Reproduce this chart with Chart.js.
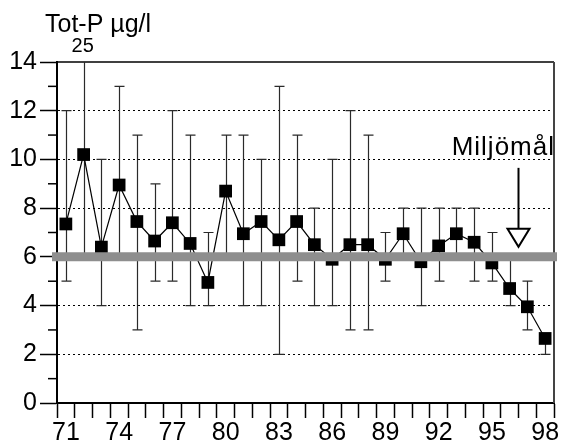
<!DOCTYPE html>
<html>
<head>
<meta charset="utf-8">
<script src="https://cdn.jsdelivr.net/npm/chart.js@4.4.1/dist/chart.umd.min.js"></script>
<style>
  html, body { margin: 0; padding: 0; background: #fff; }
  #wrap { width: 563px; height: 446px; }
</style>
</head>
<body>
<div id="wrap"><canvas id="totpChart"></canvas></div>
<script>
// Total phosphorus, yearly mean with min/max range
const years = ['71', '72', '73', '74', '75', '76', '77', '78', '79', '80', '81', '82', '83', '84',
               '85', '86', '87', '88', '89', '90', '91', '92', '93', '94', '95', '96', '97', '98'];
const meanValues = [7.35, 10.2, 6.4, 8.95, 7.45, 6.65, 7.4, 6.55, 4.95, 8.7, 6.95, 7.45, 6.7, 7.45,
                    6.5, 5.9, 6.5, 6.5, 5.9, 6.95, 5.8, 6.45, 6.95, 6.6, 5.75, 4.7, 3.95, 2.65];
const maxValues = [12, 25, 10, 13, 11, 9, 12, 11, 7, 11, 11, 10, 13, 11,
                   8, 10, 12, 11, 7, 8, 8, 8, 8, 8, 7, 6, 5, 2.8];
const minValues = [5, 6, 4, 6, 3, 5, 5, 4, 4, 6, 4, 4, 2, 5,
                   4, 4, 3, 3, 5, 6, 4, 5, 6, 5, 5, 4, 3, 2];
const yTicks = [0, 2, 4, 6, 8, 10, 12, 14];
const goal = 6;
const goalLabel = 'Miljömål';
const unitLabel = 'Tot-P µg/l';

const FONT = "'Liberation Sans', Arial, Helvetica, sans-serif";
const yMin = yTicks[0];
const yMax = yTicks[yTicks.length - 1];

// Error bars, frame and minor ticks drawn under the markers
const overlayPlugin = {
    id: 'overlay',
    beforeDatasetsDraw(chart) {
        const { ctx, chartArea: area, scales: { x, y } } = chart;
        ctx.save();

        // top and right frame lines
        ctx.lineWidth = 1.5;
        ctx.strokeStyle = '#000';
        ctx.beginPath();
        ctx.moveTo(area.left, area.top);
        ctx.lineTo(area.right, area.top);
        ctx.stroke();
        ctx.lineWidth = 2;
        ctx.strokeStyle = '#444';
        ctx.beginPath();
        ctx.moveTo(area.right, area.top);
        ctx.lineTo(area.right, area.bottom);
        ctx.stroke();

        // short ticks on odd values
        ctx.lineWidth = 1.5;
        ctx.strokeStyle = '#000';
        for (let v = yMin + 1; v < yMax; v += 2) {
            const py = y.getPixelForValue(v);
            ctx.beginPath();
            ctx.moveTo(area.left - 9, py);
            ctx.lineTo(area.left, py);
            ctx.stroke();
        }

        // min/max whiskers
        ctx.beginPath();
        ctx.rect(area.left, area.top - 1, area.width, area.height + 2);
        ctx.clip();
        ctx.lineWidth = 1.2;
        ctx.strokeStyle = '#2a2a2a';
        years.forEach((yr, i) => {
            const px = Math.round(x.getPixelForValue(i)) + 0.5;
            const top = y.getPixelForValue(Math.min(maxValues[i], yMax));
            const bottom = y.getPixelForValue(minValues[i]);
            ctx.beginPath();
            ctx.moveTo(px, top);
            ctx.lineTo(px, bottom);
            if (maxValues[i] <= yMax) {
                ctx.moveTo(px - 5, top);
                ctx.lineTo(px + 5, top);
            }
            ctx.moveTo(px - 5, bottom);
            ctx.lineTo(px + 5, bottom);
            ctx.stroke();
        });
        ctx.restore();
    },
    afterDatasetsDraw(chart) {
        const { ctx, chartArea: area, scales: { x, y } } = chart;
        ctx.save();

        // goal line across the plot
        const gy = y.getPixelForValue(goal);
        ctx.lineWidth = 9;
        ctx.strokeStyle = '#8e8e8e';
        ctx.beginPath();
        ctx.moveTo(area.left - 5, gy);
        ctx.lineTo(area.right + 3, gy);
        ctx.stroke();

        // value of the clipped maximum
        ctx.fillStyle = '#000';
        ctx.font = '20px ' + FONT;
        ctx.textAlign = 'center';
        ctx.textBaseline = 'alphabetic';
        years.forEach((yr, i) => {
            if (maxValues[i] > yMax) {
                ctx.fillText(String(maxValues[i]), x.getPixelForValue(i) - 1, area.top - 10);
            }
        });

        // unit label
        ctx.textAlign = 'left';
        ctx.font = '25px ' + FONT;
        ctx.fillText(unitLabel, 45, 32);

        // goal label with arrow
        const ax = x.getPixelForValue(25.5);
        const tip = gy - 10;
        ctx.font = '26px ' + FONT;
        ctx.textAlign = 'right';
        ctx.letterSpacing = '1px';
        ctx.fillText(goalLabel, area.right + 1, tip - 92);
        ctx.letterSpacing = '0px';

        ctx.lineWidth = 2;
        ctx.strokeStyle = '#000';
        ctx.beginPath();
        ctx.moveTo(ax, tip - 79);
        ctx.lineTo(ax, tip - 18);
        ctx.stroke();
        ctx.beginPath();
        ctx.moveTo(ax - 11, tip - 18);
        ctx.lineTo(ax + 11, tip - 18);
        ctx.lineTo(ax, tip);
        ctx.closePath();
        ctx.fillStyle = '#fff';
        ctx.fill();
        ctx.stroke();
        ctx.restore();
    }
};

const totpChart = new Chart(document.getElementById('totpChart').getContext('2d'), {
    type: 'line',
    data: {
        labels: years,
        datasets: [{
            label: unitLabel,
            data: meanValues,
            borderColor: '#000',
            borderWidth: 1.2,
            backgroundColor: '#000',
            pointStyle: 'rect',
            pointRadius: 9,
            pointHoverRadius: 9,
            pointBorderWidth: 0,
            fill: false,
            tension: 0
        }]
    },
    options: {
        responsive: true,
        maintainAspectRatio: false,
        animation: false,
        devicePixelRatio: 1,
        layout: {
            padding: { left: 0, right: 5, top: 62, bottom: 0 }
        },
        plugins: {
            legend: { display: false },
            tooltip: { enabled: false }
        },
        scales: {
            x: {
                type: 'category',
                offset: true,
                afterFit: (scale) => {
                    scale.height = 43;
                    scale.paddingLeft = 0;
                    scale.paddingRight = 0;
                },
                grid: {
                    offset: true,
                    drawOnChartArea: false,
                    tickLength: 15,
                    tickColor: '#000',
                    tickWidth: 1.5
                },
                border: { color: '#000', width: 2 },
                ticks: {
                    autoSkip: false,
                    maxRotation: 0,
                    padding: 3,
                    color: '#000',
                    font: { family: FONT, size: 25, lineHeight: 1 },
                    callback: (value, index) => (index % 3 === 0 ? years[index] : '')
                }
            },
            y: {
                min: yMin,
                max: yMax,
                afterFit: (scale) => {
                    scale.width = 57;
                    scale.paddingTop = 0;
                    scale.paddingBottom = 0;
                },
                grid: {
                    color: (c) => (c.tick && c.tick.value % 2 === 0 && c.tick.value > yMin && c.tick.value < yMax) ? '#000' : 'rgba(0,0,0,0)',
                    lineWidth: 1,
                    tickLength: 17,
                    tickWidth: 1.5,
                    tickColor: (c) => (c.tick && c.tick.value % 2 === 0) ? '#000' : 'rgba(0,0,0,0)'
                },
                border: { color: '#000', width: 2, dash: [2, 3] },
                ticks: {
                    stepSize: 1,
                    padding: 3,
                    color: '#000',
                    font: { family: FONT, size: 25 },
                    callback: (value) => (yTicks.includes(value) ? value : '')
                }
            }
        }
    },
    plugins: [overlayPlugin]
});
</script>
</body>
</html>
